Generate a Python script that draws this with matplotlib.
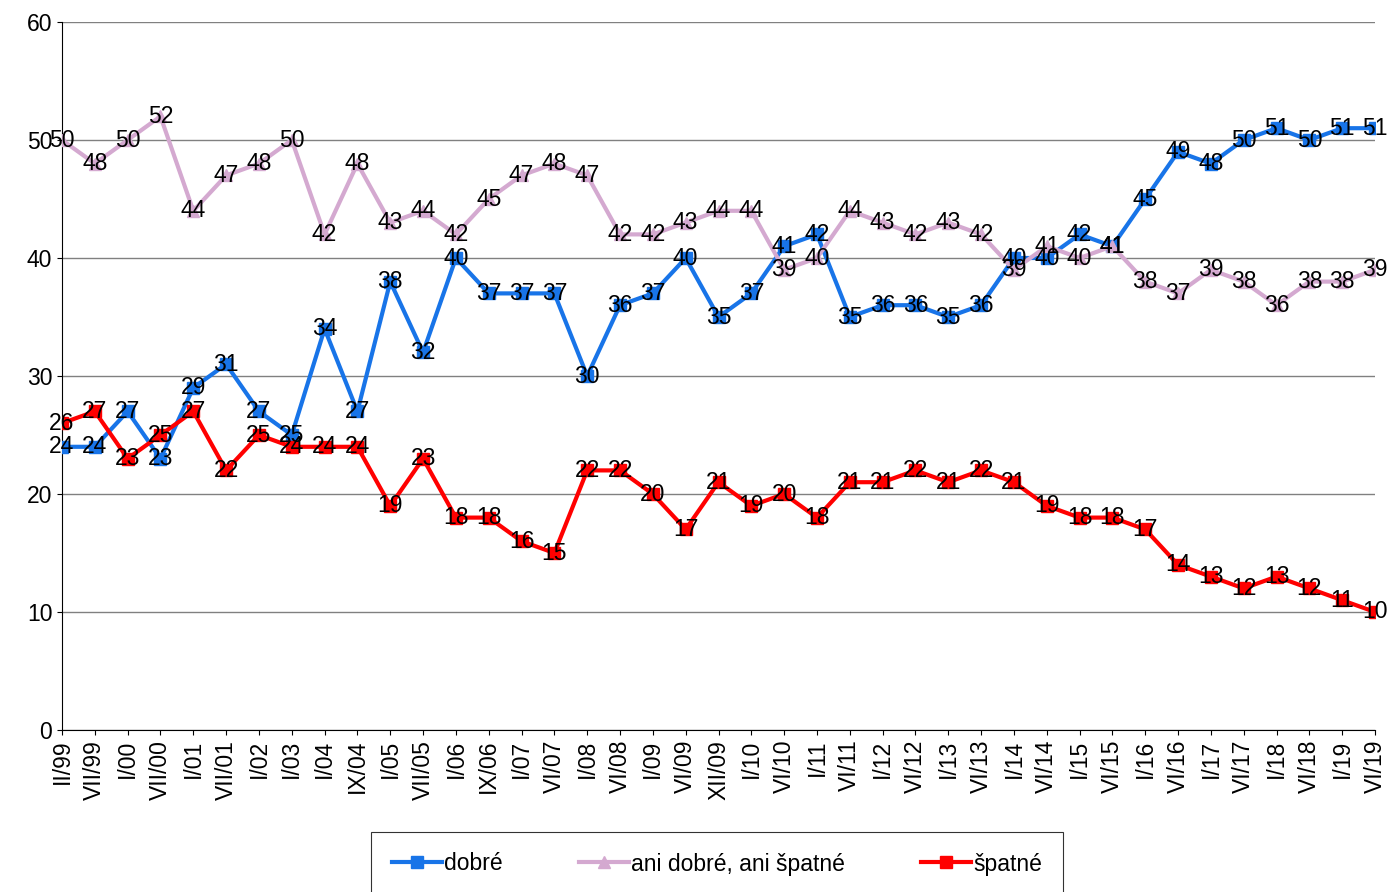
import matplotlib.pyplot as plt

periods = ['II/99', 'VII/99', 'I/00', 'VII/00', 'I/01', 'VII/01', 'I/02', 'I/03', 'I/04', 'IX/04',
           'I/05', 'VII/05', 'I/06', 'IX/06', 'I/07', 'VI/07', 'I/08', 'VI/08', 'I/09', 'VI/09',
           'XII/09', 'I/10', 'VI/10', 'I/11', 'VI/11', 'I/12', 'VI/12', 'I/13', 'VI/13', 'I/14',
           'VI/14', 'I/15', 'VI/15', 'I/16', 'VI/16', 'I/17', 'VI/17', 'I/18', 'VI/18', 'I/19', 'VI/19']
dobre = [24, 24, 27, 23, 29, 31, 27, 25, 34, 27, 38, 32, 40, 37, 37, 37, 30, 36, 37, 40,
         35, 37, 41, 42, 35, 36, 36, 35, 36, 40, 40, 42, 41, 45, 49, 48, 50, 51, 50, 51, 51]
ani = [50, 48, 50, 52, 44, 47, 48, 50, 42, 48, 43, 44, 42, 45, 47, 48, 47, 42, 42, 43,
       44, 44, 39, 40, 44, 43, 42, 43, 42, 39, 41, 40, 41, 38, 37, 39, 38, 36, 38, 38, 39]
spatne = [26, 27, 23, 25, 27, 22, 25, 24, 24, 24, 19, 23, 18, 18, 16, 15, 22, 22, 20, 17,
          21, 19, 20, 18, 21, 21, 22, 21, 22, 21, 19, 18, 18, 17, 14, 13, 12, 13, 12, 11, 10]

plt.rcParams['font.family'] = ['Liberation Sans', 'DejaVu Sans']
fig = plt.figure(figsize=(13.89, 8.92), dpi=100)
ax = fig.add_axes([62 / 1389, 1 - 730 / 892, 1313 / 1389, 708 / 892])

x = list(range(len(periods)))
series = [(dobre, '#1874e8', 's', 'dobré'),
          (ani, '#d4a9d0', '^', 'ani dobré, ani špatné'),
          (spatne, '#ff0000', 's', 'špatné')]
for vals, col, mk, name in series:
    ax.plot(x, vals, color=col, lw=3, marker=mk, ms=8, label=name, zorder=3)
    for xi, v in zip(x, vals):
        ax.text(xi, v, str(v), ha='center', va='center', fontsize=16.5, zorder=4)

ax.set_xlim(0, len(periods) - 1)
ax.set_ylim(0, 60)
ax.set_yticks(range(0, 61, 10))
ax.set_xticks(x)
ax.set_xticklabels(periods, rotation=90, fontsize=16.5)
ax.tick_params(axis='y', labelsize=16.5)
ax.yaxis.grid(True, color='#808080', lw=1)
ax.set_axisbelow(True)
for s in ['top', 'right']:
    ax.spines[s].set_visible(False)

leg = fig.legend(loc='center', bbox_to_anchor=(717 / 1389, 1 - 864 / 892), ncol=3,
                 fontsize=16.5, frameon=True, fancybox=False, edgecolor='black',
                 handlelength=2.2, handletextpad=0.1, columnspacing=3.3, borderpad=0.9,
                 borderaxespad=0)
leg.get_frame().set_linewidth(0.8)
fig.savefig('out.png', dpi=100)
